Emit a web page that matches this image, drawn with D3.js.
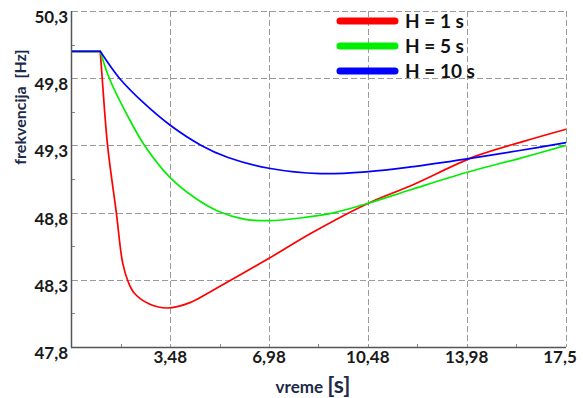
<!DOCTYPE html>
<html>
<head>
<meta charset="utf-8">
<script src="https://cdn.jsdelivr.net/npm/d3@7"></script>
<style>
  body { margin: 0; background: #fff; }
  text { font-family: Lato, "Open Sans", sans-serif; font-weight: bold; }
</style>
</head>
<body>
<div id="chart"></div>
<script>
// tick values
var xTicks = [3.48, 6.98, 10.48, 13.98, 17.5];
var yTicks = [47.8, 48.3, 48.8, 49.3, 49.8, 50.3];

// series: time [s] and frequency [Hz]
var tRed   = [0, 1, 1.07, 1.26, 1.57, 1.8, 2.0, 2.21, 2.74, 3.38, 4.18, 4.89, 6.98, 8.5, 10.5, 12, 14.3, 16, 17.5];
var fRed   = [50, 50, 49.8, 49.3, 48.8, 48.42, 48.28, 48.2, 48.12, 48.09, 48.13, 48.21, 48.46, 48.65, 48.87, 49.0, 49.22, 49.33, 49.42];
var tGreen = [0, 1, 1.32, 1.97, 2.57, 3.48, 4.35, 5.18, 6.13, 6.98, 8.1, 9.3, 10.5, 12, 14, 15.8, 17.5];
var fGreen = [50, 50, 49.8, 49.52, 49.3, 49.06, 48.91, 48.81, 48.75, 48.74, 48.76, 48.80, 48.87, 48.97, 49.10, 49.20, 49.30];
var tBlue  = [0, 1, 1.68, 2.57, 3.48, 4.58, 5.53, 6.98, 8.8, 10.5, 12, 14, 15.8, 17.5];
var fBlue  = [50, 50, 49.8, 49.61, 49.45, 49.30, 49.21, 49.13, 49.09, 49.105, 49.14, 49.20, 49.26, 49.32];

var series = [
  { name: "H = 1 s",  color: "#ff0000", t: tRed,   f: fRed },
  { name: "H = 5 s",  color: "#00ee00", t: tGreen, f: fGreen },
  { name: "H = 10 s", color: "#0000ff", t: tBlue,  f: fBlue }
];

var width = 583, height = 398;
var padL = 72, padR = 566, padT = 11, padB = 347;

var svg = d3.select("#chart").append("svg")
  .attr("width", width)
  .attr("height", height);

var x = d3.scaleLinear().domain([0, 17.5]).range([padL, padR]);
var y = d3.scaleLinear().domain([47.8, 50.3]).range([padB, padT]);

// grid lines
svg.selectAll("line.gx")
  .data(xTicks)
  .enter()
  .append("line")
  .attr("class", "gx")
  .attr("x1", function(d) { return Math.round(x(d)) + 0.5; })
  .attr("x2", function(d) { return Math.round(x(d)) + 0.5; })
  .attr("y1", padT)
  .attr("y2", padB)
  .attr("stroke", "#9a9a9a")
  .attr("stroke-dasharray", "6,3");

svg.selectAll("line.gy")
  .data(yTicks.slice(1))
  .enter()
  .append("line")
  .attr("class", "gy")
  .attr("x1", padL)
  .attr("x2", padR)
  .attr("y1", function(d) { return Math.round(y(d)) + 0.5; })
  .attr("y2", function(d) { return Math.round(y(d)) + 0.5; })
  .attr("stroke", "#9a9a9a")
  .attr("stroke-dasharray", "6,3");

// minor ticks (inside)
var xMinor = [0].concat(xTicks).slice(0, -1).map(function(d, i) { return (d + xTicks[i]) / 2; });
var yMinor = yTicks.slice(0, -1).map(function(d, i) { return (d + yTicks[i + 1]) / 2; });

svg.selectAll("line.mx")
  .data(xMinor)
  .enter()
  .append("line")
  .attr("x1", function(d) { return Math.round(x(d)) + 0.5; })
  .attr("x2", function(d) { return Math.round(x(d)) + 0.5; })
  .attr("y1", padB)
  .attr("y2", padB - 3)
  .attr("stroke", "#888");

svg.selectAll("line.my")
  .data(yMinor)
  .enter()
  .append("line")
  .attr("x1", padL)
  .attr("x2", padL + 3)
  .attr("y1", function(d) { return Math.round(y(d)) + 0.5; })
  .attr("y2", function(d) { return Math.round(y(d)) + 0.5; })
  .attr("stroke", "#888");

// axis lines
svg.append("line")
  .attr("x1", padL - 0.5).attr("x2", padL - 0.5)
  .attr("y1", padT).attr("y2", padB + 0.5)
  .attr("stroke", "#555").attr("stroke-width", 1.5);
svg.append("line")
  .attr("x1", padL - 1).attr("x2", padR)
  .attr("y1", padB + 0.5).attr("y2", padB + 0.5)
  .attr("stroke", "#555").attr("stroke-width", 1.5);

// tick labels
var fmt = function(d) { return String(d).replace(".", ","); };

svg.selectAll("text.ty")
  .data(yTicks)
  .enter()
  .append("text")
  .attr("class", "ty")
  .attr("x", 68)
  .attr("y", function(d) { return y(d) + 12; })
  .attr("text-anchor", "end")
  .attr("font-size", 17)
  .attr("fill", "#1a1a1a")
  .text(fmt);

svg.selectAll("text.tx")
  .data(xTicks)
  .enter()
  .append("text")
  .attr("class", "tx")
  .attr("x", function(d, i) { return i == xTicks.length - 1 ? x(d) - 6 : x(d); })
  .attr("y", 363)
  .attr("text-anchor", "middle")
  .attr("font-size", 17)
  .attr("fill", "#1a1a1a")
  .text(fmt);

// axis titles
svg.append("text")
  .attr("transform", "translate(26,107) rotate(-90)")
  .attr("text-anchor", "middle")
  .attr("font-size", 16)
  .attr("fill", "#1c2a48")
  .text("frekvencija\u00a0 [Hz]");

var xt = svg.append("text")
  .attr("x", 313)
  .attr("y", 393)
  .attr("text-anchor", "middle")
  .attr("fill", "#1c2a48");
xt.append("tspan").attr("font-size", 17).text("vreme\u00a0");
xt.append("tspan").attr("font-size", 23).text("[s]");

// curves: flat part straight, dynamic part smooth
var flat = d3.line()
  .x(function(d) { return x(d[0]); })
  .y(function(d) { return y(d[1]); });
var smooth = d3.line()
  .x(function(d) { return x(d[0]); })
  .y(function(d) { return y(d[1]); })
  .curve(d3.curveCatmullRom.alpha(0.5));

series.forEach(function(s) {
  var pts = s.t.map(function(t, i) { return [t, s.f[i]]; });
  svg.append("path")
    .attr("d", flat(pts.slice(0, 2)) + smooth(pts.slice(1)).replace(/^M/, "L"))
    .attr("fill", "none")
    .attr("stroke", s.color)
    .attr("stroke-width", 1.7)
    .attr("stroke-linejoin", "miter");
});

// legend
var legend = svg.selectAll("g.legend")
  .data(series)
  .enter()
  .append("g")
  .attr("class", "legend")
  .attr("transform", function(d, i) { return "translate(0," + (21 + i * 25) + ")"; });

legend.append("line")
  .attr("x1", 340).attr("x2", 395)
  .attr("y1", 0).attr("y2", 0)
  .attr("stroke", function(d) { return d.color; })
  .attr("stroke-width", 7)
  .attr("stroke-linecap", "round");

legend.append("text")
  .attr("x", 405)
  .attr("y", 7)
  .attr("font-size", 19)
  .attr("fill", "#111")
  .text(function(d) { return d.name; });
</script>
</body>
</html>
